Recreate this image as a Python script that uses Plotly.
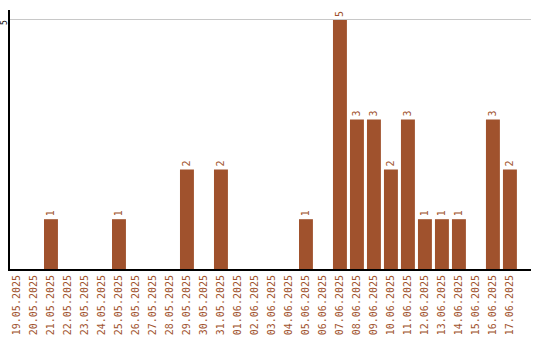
import plotly.graph_objects as go

dates = ["19.05.2025","20.05.2025","21.05.2025","22.05.2025","23.05.2025","24.05.2025",
         "25.05.2025","26.05.2025","27.05.2025","28.05.2025","29.05.2025","30.05.2025",
         "31.05.2025","01.06.2025","02.06.2025","03.06.2025","04.06.2025","05.06.2025",
         "06.06.2025","07.06.2025","08.06.2025","09.06.2025","10.06.2025","11.06.2025",
         "12.06.2025","13.06.2025","14.06.2025","15.06.2025","16.06.2025","17.06.2025"]
counts = [0,0,1,0,0,0,1,0,0,0,2,0,2,0,0,0,0,1,0,5,3,3,2,3,1,1,1,0,3,2]
labels = [str(c) if c > 0 else "" for c in counts]
y_ticks = [5]

color = "#A0522D"
font = "DejaVu Sans Mono"

fig = go.Figure(go.Bar(
    x=list(range(len(dates))), y=counts, text=labels,
    textposition="outside", textangle=-90, constraintext="none",
    textfont=dict(family=font, size=10, color=color),
    marker=dict(color=color, line=dict(width=0)),
    cliponaxis=False,
))
fig.update_layout(
    width=540, height=340, margin=dict(l=10, r=9, t=10, b=71),
    plot_bgcolor="white", paper_bgcolor="white", bargap=0.18, showlegend=False,
)
fig.update_xaxes(
    tickmode="array", tickvals=list(range(len(dates))), ticktext=dates,
    tickangle=-90, tickfont=dict(family=font, size=10, color=color),
    range=[-0.41, 30.24], showline=True, linecolor="black", linewidth=2,
    showgrid=False, ticks="", zeroline=False, automargin=False,
)
fig.update_yaxes(
    range=[0, 5.2], tickvals=y_ticks, showticklabels=False,
    showline=True, linecolor="black", linewidth=2,
    showgrid=True, gridcolor="#c8c8c8", gridwidth=1, zeroline=False, ticks="",
    automargin=False,
)
for t in y_ticks:
    fig.add_annotation(
        x=0, xref="paper", y=t, yref="y", text=str(t), showarrow=False,
        textangle=-90, xanchor="center", yanchor="middle", xshift=-5, yshift=-3,
        borderpad=0, font=dict(family=font, size=8, color="black"),
    )
fig.write_html("out.html")
